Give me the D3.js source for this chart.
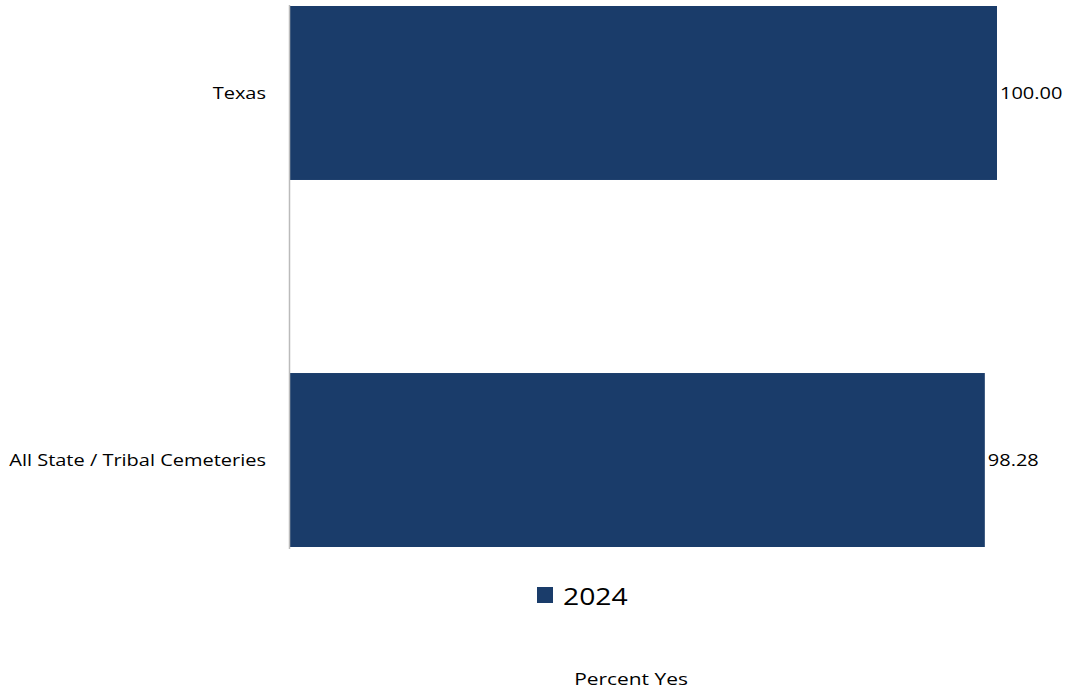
<!DOCTYPE html>
<html><head><meta charset="utf-8">
<script src="https://cdn.jsdelivr.net/npm/d3@7"></script>
<style>body{margin:0;background:#fff;} text{font-family:"Open Sans",sans-serif;fill:#000;}</style>
</head><body><svg id="c" width="1067" height="693"></svg>
<script>
const categories = ["Texas", "All State / Tribal Cemeteries"];
const values2024 = [100.00, 98.28];
const seriesName = "2024";
const axisTitle = "Percent Yes";

const svg = d3.select("#c");
const x = d3.scaleLinear().domain([0, 100]).range([289, 997]);
const y = d3.scaleBand().domain(categories).range([6, 547]).paddingInner(0.526).paddingOuter(0);
const color = "#1a3c6a";
const sx = 1.29;

function stretched(g, px, py, anchor, size, txt, s) {
  g.append("text")
    .attr("transform", `translate(${px},${py}) scale(${s},1)`)
    .attr("text-anchor", anchor).attr("dominant-baseline","central")
    .style("font-size", size).text(txt);
}

svg.selectAll("rect.bar").data(categories).join("rect")
  .attr("class","bar")
  .attr("x", x(0)).attr("y", d => y(d))
  .attr("width", (d,i) => x(values2024[i]) - x(0))
  .attr("height", y.bandwidth())
  .attr("fill", color);

svg.append("line").attr("x1", 289.5).attr("x2", 289.5).attr("y1", 5).attr("y2", 549)
  .attr("stroke", "#bbbbbb").attr("stroke-width", 1.5);

categories.forEach((d, i) => {
  stretched(svg, 266, y(d) + y.bandwidth()/2, "end", "15.5px", d, sx);
  stretched(svg, x(values2024[i]) + 3, y(d) + y.bandwidth()/2, "start", "15.5px", values2024[i].toFixed(2), sx);
});

svg.append("rect").attr("x", 537).attr("y", 587).attr("width", 16).attr("height", 16).attr("fill", color);
stretched(svg, 563, 596, "start", "23px", seriesName, 1.23);
stretched(svg, 631, 679, "middle", "17px", axisTitle, 1.23);
</script></body></html>
